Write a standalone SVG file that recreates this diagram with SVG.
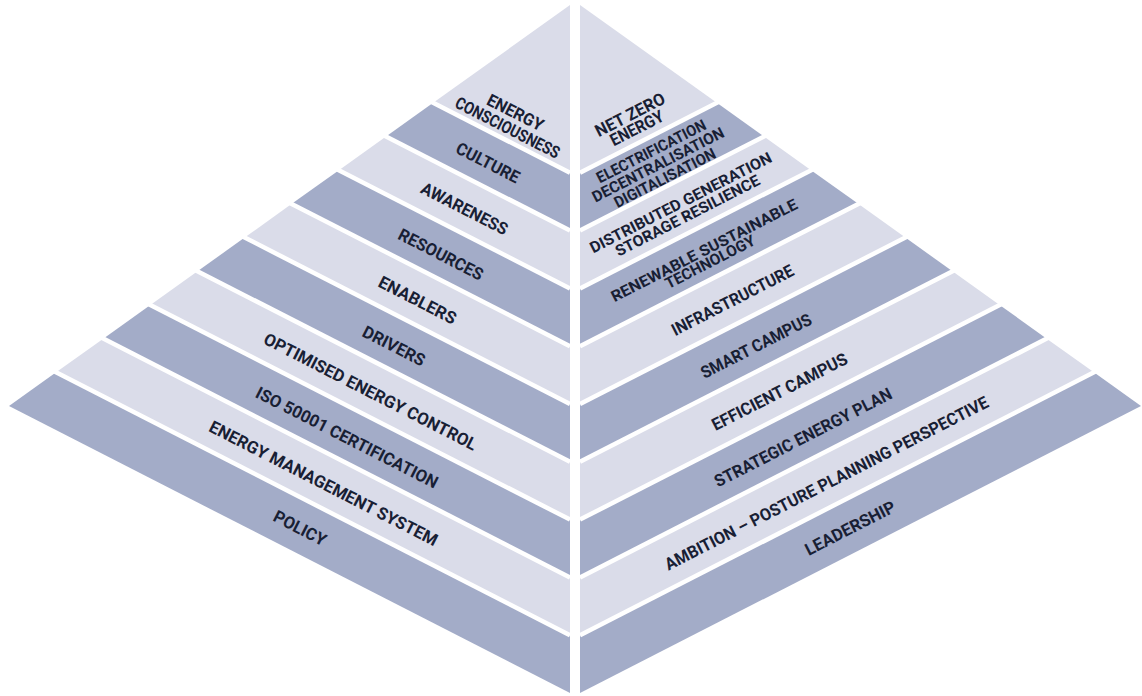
<svg xmlns="http://www.w3.org/2000/svg" width="1142" height="696" viewBox="0 0 1142 696">
<style>
.lt{fill:#dadce9}
.dk{fill:#a3acc8}
.sep{stroke:#ffffff;stroke-width:4.5;fill:none}
.t{font-family:Roboto,"DejaVu Sans",sans-serif;font-weight:700;font-size:17px;fill:#182034;text-anchor:middle}
.s{font-size:15.5px}
</style>
<rect width="1142" height="696" fill="#ffffff"/>
<g id="left">
<g id="l0"><polygon class="lt" points="570,5 433.18,102.8 570,172.8"/>
<g transform="translate(511.5,120) rotate(27.1)"><text class="t" x="0" y="-2.5" textLength="61" lengthAdjust="spacingAndGlyphs">ENERGY</text><text class="t" x="0" y="14.5" textLength="115" lengthAdjust="spacingAndGlyphs">CONSCIOUSNESS</text></g></g>
<g id="l1"><polygon class="dk" points="433.18,102.8 570,172.8 570,230.6 386.05,136.49"/>
<text class="t" transform="translate(488,162.7) rotate(27.1)" y="6" textLength="69" lengthAdjust="spacingAndGlyphs">CULTURE</text></g>
<g id="l2"><polygon class="lt" points="386.05,136.49 570,230.6 570,288.4 338.91,170.18"/>
<text class="t" transform="translate(464.5,208.5) rotate(27.1)" y="6" textLength="95" lengthAdjust="spacingAndGlyphs">AWARENESS</text></g>
<g id="l3"><polygon class="dk" points="338.91,170.18 570,288.4 570,346.2 291.78,203.87"/>
<text class="t" transform="translate(441,254.3) rotate(27.1)" y="6" textLength="93" lengthAdjust="spacingAndGlyphs">RESOURCES</text></g>
<g id="l4"><polygon class="lt" points="291.78,203.87 570,346.2 570,404 244.65,237.56"/>
<text class="t" transform="translate(417.5,300.1) rotate(27.1)" y="6" textLength="85" lengthAdjust="spacingAndGlyphs">ENABLERS</text></g>
<g id="l5"><polygon class="dk" points="244.65,237.56 570,404 570,461.8 197.52,271.25"/>
<text class="t" transform="translate(394,345.9) rotate(27.1)" y="6" textLength="68" lengthAdjust="spacingAndGlyphs">DRIVERS</text></g>
<g id="l6"><polygon class="lt" points="197.52,271.25 570,461.8 570,519.6 150.39,304.94"/>
<text class="t" transform="translate(370.5,391.6) rotate(27.1)" y="6" textLength="237" lengthAdjust="spacingAndGlyphs">OPTIMISED ENERGY CONTROL</text></g>
<g id="l7"><polygon class="dk" points="150.39,304.94 570,519.6 570,577.4 103.26,338.63"/>
<text class="t" transform="translate(347,437.4) rotate(27.1)" y="6" textLength="202" lengthAdjust="spacingAndGlyphs">ISO 50001 CERTIFICATION</text></g>
<g id="l8"><polygon class="lt" points="103.26,338.63 570,577.4 570,635.2 56.13,372.31"/>
<text class="t" transform="translate(323.5,483.2) rotate(27.1)" y="6" textLength="254" lengthAdjust="spacingAndGlyphs">ENERGY MANAGEMENT SYSTEM</text></g>
<g id="l9"><polygon class="dk" points="56.13,372.31 570,635.2 570,693 9,406"/>
<text class="t" transform="translate(300,528) rotate(27.1)" y="6" textLength="57" lengthAdjust="spacingAndGlyphs">POLICY</text></g>
</g>
<g id="right">
<g id="r0"><polygon class="lt" points="580,5 716.82,102.8 580,172.8"/>
<g transform="translate(633.5,121.5) rotate(-27.1)"><text class="t" x="0" y="-1.8" font-size="16" textLength="76" lengthAdjust="spacingAndGlyphs">NET ZERO</text><text class="t" x="0" y="13.2" font-size="16" textLength="58" lengthAdjust="spacingAndGlyphs">ENERGY</text></g></g>
<g id="r1"><polygon class="dk" points="716.82,102.8 580,172.8 580,230.6 763.95,136.49"/>
<g transform="translate(658,164.5) rotate(-27.1)"><text class="t s" x="0" y="-9.5" textLength="121" lengthAdjust="spacingAndGlyphs">ELECTRIFICATION</text><text class="t s" x="0" y="5.5" textLength="146" lengthAdjust="spacingAndGlyphs">DECENTRALISATION</text><text class="t s" x="0" y="20.5" textLength="112" lengthAdjust="spacingAndGlyphs">DIGITALISATION</text></g></g>
<g id="r2"><polygon class="lt" points="763.95,136.49 580,230.6 580,288.4 811.09,170.18"/>
<g transform="translate(684,209) rotate(-27.1)"><text class="t s" x="0" y="-1.8" textLength="202" lengthAdjust="spacingAndGlyphs">DISTRIBUTED GENERATION</text><text class="t s" x="0" y="12.8" textLength="160" lengthAdjust="spacingAndGlyphs">STORAGE RESILIENCE</text></g></g>
<g id="r3"><polygon class="dk" points="811.09,170.18 580,288.4 580,346.2 858.22,203.87"/>
<g transform="translate(707,256) rotate(-27.1)"><text class="t s" x="0" y="-1" textLength="207" lengthAdjust="spacingAndGlyphs">RENEWABLE SUSTAINABLE</text><text class="t s" x="0" y="12" textLength="99" lengthAdjust="spacingAndGlyphs">TECHNOLOGY</text></g></g>
<g id="r4"><polygon class="lt" points="858.22,203.87 580,346.2 580,404 905.35,237.56"/>
<text class="t" transform="translate(732.5,300.1) rotate(-27.1)" y="6" textLength="135" lengthAdjust="spacingAndGlyphs">INFRASTRUCTURE</text></g>
<g id="r5"><polygon class="dk" points="905.35,237.56 580,404 580,461.8 952.48,271.25"/>
<text class="t" transform="translate(756,345.9) rotate(-27.1)" y="6" textLength="122" lengthAdjust="spacingAndGlyphs">SMART CAMPUS</text></g>
<g id="r6"><polygon class="lt" points="952.48,271.25 580,461.8 580,519.6 999.61,304.94"/>
<text class="t" transform="translate(779.5,391.6) rotate(-27.1)" y="6" textLength="150" lengthAdjust="spacingAndGlyphs">EFFICIENT CAMPUS</text></g>
<g id="r7"><polygon class="dk" points="999.61,304.94 580,519.6 580,577.4 1046.74,338.63"/>
<text class="t" transform="translate(803,437.4) rotate(-27.1)" y="6" textLength="197" lengthAdjust="spacingAndGlyphs">STRATEGIC ENERGY PLAN</text></g>
<g id="r8"><polygon class="lt" points="1046.74,338.63 580,577.4 580,635.2 1093.87,372.31"/>
<text class="t" transform="translate(826.5,483.2) rotate(-27.1)" y="6" textLength="361" lengthAdjust="spacingAndGlyphs">AMBITION – POSTURE PLANNING PERSPECTIVE</text></g>
<g id="r9"><polygon class="dk" points="1093.87,372.31 580,635.2 580,693 1141,406"/>
<text class="t" transform="translate(850,528) rotate(-27.1)" y="6" textLength="99" lengthAdjust="spacingAndGlyphs">LEADERSHIP</text></g>
</g>
<g id="separators" class="sep">
<line x1="429.2" y1="100.8" x2="570" y2="172.8"/>
<line x1="382.1" y1="134.5" x2="570" y2="230.6"/>
<line x1="334.9" y1="168.2" x2="570" y2="288.4"/>
<line x1="287.8" y1="201.9" x2="570" y2="346.2"/>
<line x1="240.7" y1="235.5" x2="570" y2="404"/>
<line x1="193.5" y1="269.2" x2="570" y2="461.8"/>
<line x1="146.4" y1="302.9" x2="570" y2="519.6"/>
<line x1="99.3" y1="336.6" x2="570" y2="577.4"/>
<line x1="52.1" y1="370.3" x2="570" y2="635.2"/>
<line x1="720.8" y1="100.8" x2="580" y2="172.8"/>
<line x1="767.9" y1="134.5" x2="580" y2="230.6"/>
<line x1="815.1" y1="168.2" x2="580" y2="288.4"/>
<line x1="862.2" y1="201.9" x2="580" y2="346.2"/>
<line x1="909.3" y1="235.5" x2="580" y2="404"/>
<line x1="956.5" y1="269.2" x2="580" y2="461.8"/>
<line x1="1003.6" y1="302.9" x2="580" y2="519.6"/>
<line x1="1050.7" y1="336.6" x2="580" y2="577.4"/>
<line x1="1097.9" y1="370.3" x2="580" y2="635.2"/>
</g>
</svg>
